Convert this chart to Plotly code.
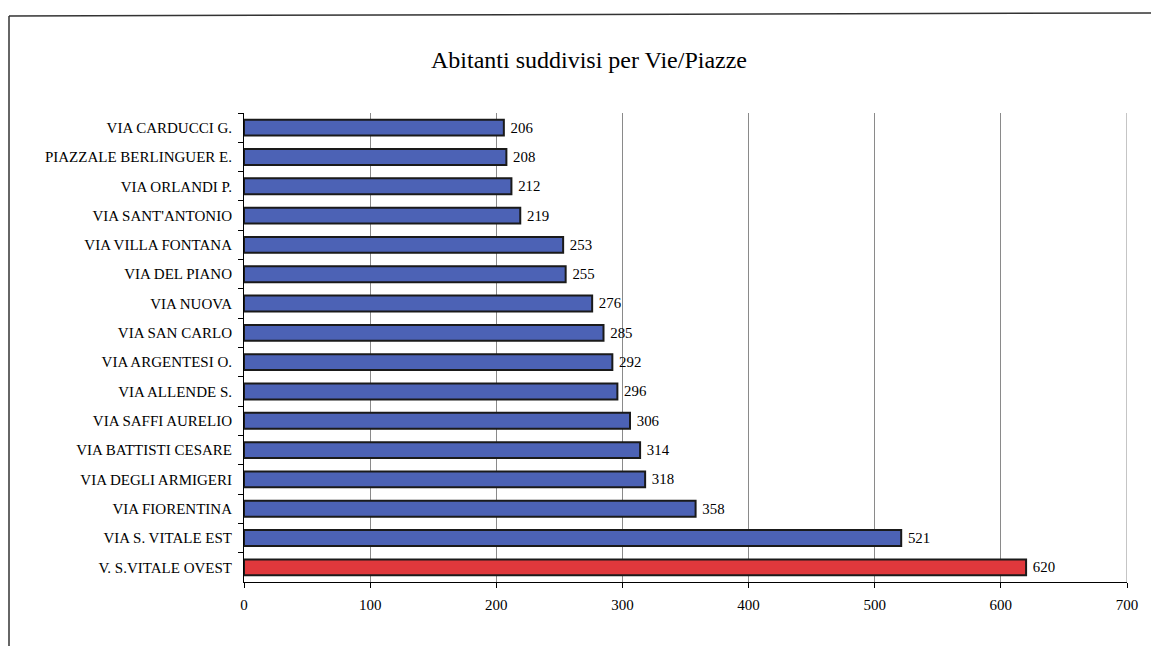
import plotly.graph_objects as go

streets = ["VIA CARDUCCI G.", "PIAZZALE BERLINGUER E.", "VIA ORLANDI P.", "VIA SANT'ANTONIO",
           "VIA VILLA FONTANA", "VIA DEL PIANO", "VIA NUOVA", "VIA SAN CARLO",
           "VIA ARGENTESI O.", "VIA ALLENDE S.", "VIA SAFFI AURELIO", "VIA BATTISTI CESARE",
           "VIA DEGLI ARMIGERI", "VIA FIORENTINA", "VIA S. VITALE EST", "V. S.VITALE OVEST"]
inhabitants = [206, 208, 212, 219, 253, 255, 276, 285, 292, 296, 306, 314, 318, 358, 521, 620]
x_ticks = [0, 100, 200, 300, 400, 500, 600, 700]

colors = ["#4c62b5"] * (len(streets) - 1) + ["#e0383c"]

FONT = "Liberation Serif"

fig = go.Figure(go.Bar(
    y=streets, x=inhabitants, orientation="h",
    marker=dict(color=colors, line=dict(color="#1a1a1a", width=2)),
    text=[" " + str(v) for v in inhabitants], textposition="outside",
    textfont=dict(family=FONT, size=15, color="black"),
    cliponaxis=False,
))

# page body has an 8px margin, so work in window pixels minus 8
OFF = 8
W, H = 1159 - OFF, 646 - OFF
L = 244 - OFF
T = 113 - OFF
R = W - (1127 - OFF)
B = H - (582 - OFF)
pw, ph = W - L - R, H - T - B

def px_x(x):
    return (x - OFF - L) / pw

def px_y(y):
    return 1 - (y - OFF - T) / ph

fig.update_layout(
    width=W, height=H,
    margin=dict(l=L, r=R, t=T, b=B),
    paper_bgcolor="white", plot_bgcolor="white",
    bargap=0.46,
    showlegend=False,
    title=dict(text="Abitanti suddivisi per Vie/Piazze", xref="container", x=(589 - OFF) / W,
               xanchor="center", yref="container", y=1 - (60 - OFF) / H, yanchor="middle",
               font=dict(family=FONT, size=24, color="black")),
    font=dict(family=FONT, size=15, color="black"),
    xaxis=dict(range=[0, 700], tickvals=x_ticks, showgrid=True, gridcolor="#8a8a8a", gridwidth=1,
               showline=True, linecolor="black", linewidth=1, ticks="outside", ticklen=5,
               tickcolor="black", zeroline=False, ticklabelstandoff=4,
               tickfont=dict(family=FONT, size=15, color="black")),
    yaxis=dict(autorange="reversed", showline=True, linecolor="black", linewidth=1,
               ticks="outside", ticklen=5, tickcolor="black", tickson="boundaries",
               showgrid=False, ticklabelstandoff=8,
               tickfont=dict(family=FONT, size=15, color="black")),
    shapes=[
        dict(type="line", xref="x", yref="paper", x0=x_ticks[-1], x1=x_ticks[-1], y0=0, y1=1,
             line=dict(color="#8a8a8a", width=1), layer="below"),
        dict(type="line", xref="paper", yref="paper", x0=px_x(9), x1=px_x(1159), y0=px_y(16), y1=px_y(13),
             line=dict(color="#333333", width=1.5)),
        dict(type="line", xref="paper", yref="paper", x0=px_x(9), x1=px_x(9), y0=px_y(16), y1=px_y(646),
             line=dict(color="#333333", width=1.5)),
    ],
)

fig.write_html("out.html")
